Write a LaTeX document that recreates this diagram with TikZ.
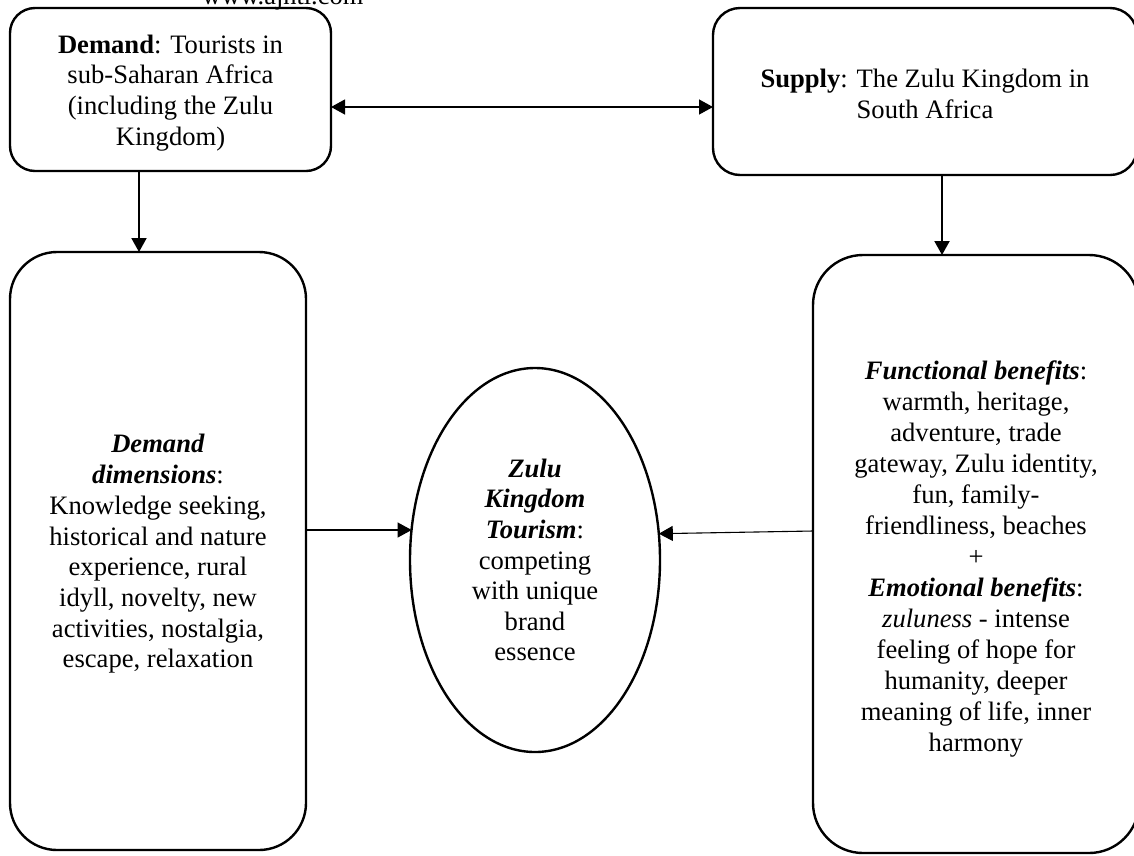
\documentclass[tikz,border=0pt]{standalone}
\usepackage{fontspec}
\setmainfont{Liberation Serif}
\usetikzlibrary{arrows.meta,shapes.geometric}
\newcommand{\bfit}[1]{\textbf{\textit{#1}}}
\tikzset{
  box/.style={draw=black, line width=2.4pt, rounded corners=#1, inner sep=0pt, outer sep=0pt},
  oval/.style={draw=black, line width=2.4pt, ellipse, inner sep=0pt, outer sep=0pt},
  txt/.style={inner sep=0pt, align=center, font=\fontsize{26.6}{30.8}\selectfont},
  tip/.style={-{Triangle[length=14pt,width=15pt]}},
  thickarrow/.style={tip, line width=2pt},
  thinarrow/.style={tip, line width=1.1pt},
  dblarrow/.style={{Triangle[length=14pt,width=15pt]}-{Triangle[length=14pt,width=15pt]}, line width=1.3pt},
}
\begin{document}
\begin{tikzpicture}[x=1pt,y=-1pt]
\useasboundingbox (0,0) rectangle (1134,855);
\clip (0,0) rectangle (1134,855);
\fill[white] (0,0) rectangle (1134,855);

\node[anchor=base west, inner sep=0pt, font=\fontsize{26.4}{30}\selectfont] (url) at (202,4) {www.ajhtl.com};

\node[box=25pt, minimum width=321pt, minimum height=163pt] (tl) at (170.5,89.5) {};
\node[txt] (tltext) at ([yshift=-3.5pt]tl.center)
  {\textbf{Demand}: Tourists in\\sub-Saharan Africa\\(including the Zulu\\Kingdom)};
\node[box=27pt, minimum width=424pt, minimum height=167pt] (tr) at (925,91.5) {};
\node[txt] (trtext) at ([yshift=-2.5pt]tr.center)
  {\textbf{Supply}: The Zulu Kingdom in\\South Africa};
\node[box=47pt, minimum width=296pt, minimum height=598pt] (ld) at (158,551) {};
\node[txt, font=\fontsize{26.6}{30.7}\selectfont] (ldtext) at ([yshift=-3pt]ld.center)
  {\bfit{Demand}\\\bfit{dimensions}:\\Knowledge seeking,\\historical and nature\\experience, rural\\idyll, novelty, new\\activities, nostalgia,\\escape, relaxation};
\node[box=50pt, minimum width=326pt, minimum height=598pt] (rd) at (976,554) {};
\node[txt, font=\fontsize{26.6}{31}\selectfont] (rdtext) at ([yshift=-5pt]rd.center)
  {\bfit{Functional benefits}:\\warmth, heritage,\\adventure, trade\\gateway, Zulu identity,\\fun, family-\\friendliness, beaches\\+\\\bfit{Emotional benefits}:\\\textit{zuluness} - intense\\feeling of hope for\\humanity, deeper\\meaning of life, inner\\harmony};
\node[oval, minimum width=250pt, minimum height=384pt] (ell) at (535,560) {};
\node[txt, font=\fontsize{26.6}{30.6}\selectfont] (elltext) at (ell.center)
  {\bfit{Zulu}\\\bfit{Kingdom}\\\bfit{Tourism}:\\competing\\with unique\\brand\\essence};

\draw[dblarrow] ([yshift=-17.5pt]tl.east) -- ([yshift=-17.5pt]tl.east -| tr.west);
\draw[thickarrow] ([xshift=-31.5pt]tl.south) -- ([xshift=-31.5pt]tl.south |- ld.north);
\draw[thickarrow] ([xshift=17pt]tr.south) -- ([xshift=17pt]tr.south |- rd.north);
\draw[thinarrow] ([yshift=21pt]ld.east) -- ([yshift=21pt]ld.east -| ell.166.3);
\draw[thinarrow] ([yshift=23pt]rd.west) -- (ell.12.3);
\end{tikzpicture}
\end{document}
